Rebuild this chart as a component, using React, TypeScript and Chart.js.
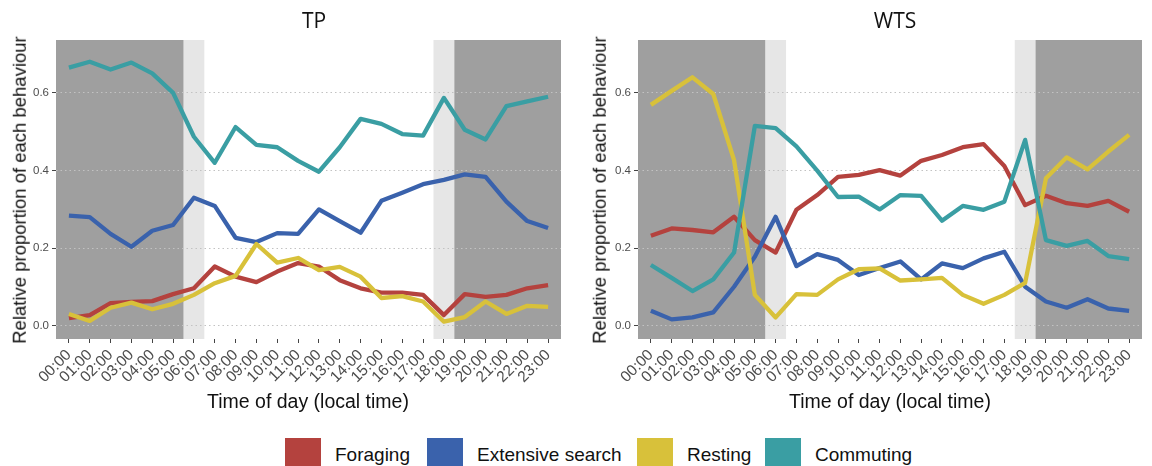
import React, { useEffect, useRef } from "react";
import { Chart, registerables } from "chart.js";
Chart.register(...registerables);

const hours = [
  "00:00", "01:00", "02:00", "03:00", "04:00", "05:00", "06:00", "07:00",
  "08:00", "09:00", "10:00", "11:00", "12:00", "13:00", "14:00", "15:00",
  "16:00", "17:00", "18:00", "19:00", "20:00", "21:00", "22:00", "23:00",
];
const behaviours = ["Foraging", "Extensive search", "Resting", "Commuting"];
const colors = ["#B4423E", "#3A62AC", "#D8C13A", "#3A9EA3"];

const tpForaging = [0.020, 0.028, 0.059, 0.062, 0.064, 0.082, 0.097, 0.153, 0.127, 0.113, 0.140, 0.162, 0.153, 0.118, 0.097, 0.086, 0.086, 0.080, 0.028, 0.082, 0.075, 0.080, 0.097, 0.105];
const tpSearch = [0.284, 0.280, 0.237, 0.204, 0.245, 0.260, 0.330, 0.309, 0.227, 0.216, 0.239, 0.237, 0.300, 0.270, 0.240, 0.322, 0.343, 0.365, 0.376, 0.390, 0.384, 0.320, 0.270, 0.252];
const tpResting = [0.031, 0.013, 0.047, 0.060, 0.043, 0.057, 0.080, 0.110, 0.129, 0.211, 0.163, 0.175, 0.144, 0.152, 0.127, 0.072, 0.077, 0.063, 0.011, 0.023, 0.063, 0.031, 0.052, 0.049];
const tpCommuting = [0.665, 0.680, 0.660, 0.678, 0.650, 0.600, 0.487, 0.420, 0.512, 0.466, 0.460, 0.425, 0.397, 0.460, 0.533, 0.520, 0.494, 0.490, 0.587, 0.505, 0.480, 0.566, 0.578, 0.590];

const wtsForaging = [0.232, 0.251, 0.247, 0.241, 0.281, 0.221, 0.189, 0.299, 0.337, 0.384, 0.389, 0.401, 0.387, 0.425, 0.440, 0.460, 0.468, 0.412, 0.311, 0.335, 0.316, 0.309, 0.322, 0.294];
const wtsSearch = [0.039, 0.017, 0.022, 0.035, 0.101, 0.178, 0.281, 0.154, 0.185, 0.170, 0.131, 0.149, 0.166, 0.120, 0.161, 0.149, 0.174, 0.191, 0.101, 0.063, 0.047, 0.069, 0.045, 0.039];
const wtsResting = [0.569, 0.605, 0.640, 0.597, 0.427, 0.080, 0.022, 0.082, 0.080, 0.120, 0.146, 0.148, 0.117, 0.120, 0.124, 0.080, 0.057, 0.080, 0.111, 0.380, 0.434, 0.403, 0.449, 0.492];
const wtsCommuting = [0.157, 0.124, 0.090, 0.120, 0.189, 0.515, 0.509, 0.462, 0.400, 0.332, 0.333, 0.300, 0.337, 0.335, 0.271, 0.309, 0.299, 0.320, 0.479, 0.221, 0.206, 0.219, 0.180, 0.172];

const yTicks = [0, 0.2, 0.4, 0.6];
const Y_MIN = -0.0335;
const Y_MAX = 0.736;
const X_MIN = -0.62;
const X_MAX = 23.62;
// shaded periods in hour units: night (dark) and twilight (light)
const nightBands = [[X_MIN, 5.5], [18.5, X_MAX]];
const twilightBands = [[5.5, 6.5], [17.5, 18.5]];

const FONT = '"Liberation Sans", Arial, sans-serif';
const CANVAS_H = 392;
const PLOT_BOTTOM = 339;

const shadePlugin = {
  id: "shade",
  beforeDraw(chart: any) {
    const { ctx, chartArea, scales } = chart;
    const x = scales.x;
    ctx.save();
    const draw = (bands: number[][], color: string) => {
      bands.forEach(([a, b]) => {
        const x0 = Math.max(x.getPixelForValue(a), chartArea.left);
        const x1 = Math.min(x.getPixelForValue(b), chartArea.right);
        ctx.fillStyle = color;
        ctx.fillRect(x0, chartArea.top, x1 - x0, chartArea.bottom - chartArea.top);
      });
    };
    draw(twilightBands, "#E6E6E6");
    draw(nightBands, "#9F9F9F");
    ctx.restore();
  },
};

function Panel(props: { series: number[][]; left: number; width: number; yAxisWidth: number; padRight: number }) {
  const ref = useRef<HTMLCanvasElement | null>(null);
  useEffect(() => {
    if (!ref.current) return;
    const chart = new Chart(ref.current, {
      type: "line",
      data: {
        datasets: behaviours.map((name, i) => ({
          label: name,
          data: props.series[i].map((v, h) => ({ x: h, y: v })),
          borderColor: colors[i],
          backgroundColor: colors[i],
          borderWidth: 4.3,
          pointRadius: 0,
          tension: 0,
          fill: false,
          borderJoinStyle: "round",
          order: 3 - i,
        })),
      },
      options: {
        responsive: false,
        animation: false,
        events: [],
        layout: { padding: { left: 0, right: props.padRight, top: 40, bottom: 0 } },
        plugins: { legend: { display: false }, tooltip: { enabled: false }, title: { display: false } },
        scales: {
          x: {
            type: "linear",
            min: X_MIN,
            max: X_MAX,
            afterBuildTicks: (ax: any) => {
              ax.ticks = hours.map((_, i) => ({ value: i }));
            },
            afterFit: (ax: any) => {
              ax.height = CANVAS_H - PLOT_BOTTOM;
            },
            grid: { drawOnChartArea: false, drawTicks: true, tickLength: 4, tickColor: "#444", tickWidth: 1 },
            border: { display: false },
            ticks: {
              autoSkip: false,
              maxRotation: 45,
              minRotation: 45,
              padding: 3,
              color: "#4D4D4D",
              font: { family: FONT, size: 15.5 },
              callback: (v: any) => hours[v] ?? "",
            },
          },
          y: {
            type: "linear",
            min: Y_MIN,
            max: Y_MAX,
            afterBuildTicks: (ax: any) => {
              ax.ticks = yTicks.map((v) => ({ value: v }));
            },
            afterFit: (ax: any) => {
              ax.width = props.yAxisWidth;
            },
            grid: {
              color: "#C2C2C2",
              lineWidth: 1,
              borderDash: [1.5, 3],
              drawTicks: true,
              tickLength: 4,
              tickColor: "#444",
              tickWidth: 1,
              tickBorderDash: [],
            },
            border: { display: false, dash: [1.5, 3] },
            ticks: {
              padding: 3,
              color: "#4D4D4D",
              font: { family: FONT, size: 11.5 },
              callback: (v: any) => Number(v).toFixed(1),
            },
          },
        },
      },
      plugins: [shadePlugin],
    } as any);
    return () => chart.destroy();
  }, []);
  return (
    <canvas
      ref={ref}
      width={props.width}
      height={CANVAS_H}
      style={{ position: "absolute", left: props.left, top: 0, width: props.width, height: CANVAS_H }}
    />
  );
}

const txt: React.CSSProperties = { position: "absolute", whiteSpace: "nowrap", lineHeight: 1, color: "#111" };

export default function App() {
  const legendSquares = [285, 427, 637, 765];
  const legendTexts = [335, 477, 687, 815];
  return (
    <div style={{ position: "absolute", left: 0, top: 0, width: 1152, height: 466, background: "#fff", overflow: "hidden", fontFamily: FONT }}>
      <Panel series={[tpForaging, tpSearch, tpResting, tpCommuting]} left={0} width={575} yAxisWidth={56} padRight={14} />
      <Panel series={[wtsForaging, wtsSearch, wtsResting, wtsCommuting]} left={575} width={577} yAxisWidth={63} padRight={10} />

      <div style={{ ...txt, left: 314, top: 9.5, transform: "translateX(-50%)", fontFamily: '"Open Sans", sans-serif', fontSize: 21 }}>TP</div>
      <div style={{ ...txt, left: 895, top: 9.5, transform: "translateX(-50%)", fontFamily: '"Open Sans", sans-serif', fontSize: 21 }}>WTS</div>

      <div style={{ ...txt, left: 20, top: 190, transform: "translate(-50%, -50%) rotate(-90deg)", fontSize: 18.5 }}>Relative proportion of each behaviour</div>
      <div style={{ ...txt, left: 600, top: 190, transform: "translate(-50%, -50%) rotate(-90deg)", fontSize: 18.5 }}>Relative proportion of each behaviour</div>

      <div style={{ ...txt, left: 308, top: 391.5, transform: "translateX(-50%)", fontSize: 19.5 }}>Time of day (local time)</div>
      <div style={{ ...txt, left: 890, top: 391.5, transform: "translateX(-50%)", fontSize: 19.5 }}>Time of day (local time)</div>

      {behaviours.map((b, i) => (
        <React.Fragment key={b}>
          <div style={{ position: "absolute", left: legendSquares[i], top: 438, width: 36, height: 30, background: colors[i] }} />
          <div style={{ ...txt, left: legendTexts[i], top: 445, fontSize: 19 }}>{b}</div>
        </React.Fragment>
      ))}
    </div>
  );
}
